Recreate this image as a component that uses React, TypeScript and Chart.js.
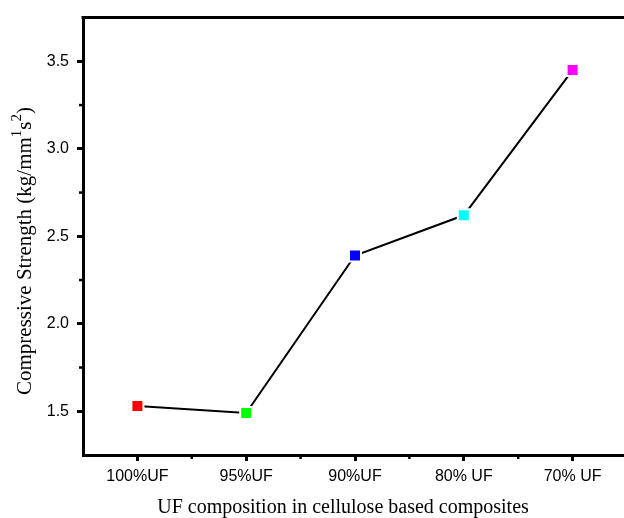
import { useEffect, useRef } from 'react';
import { Chart, registerables } from 'chart.js';

Chart.register(...registerables);

const CATEGORIES = ['100%UF', '95%UF', '90%UF', '80% UF', '70% UF'];
const STRENGTH = [1.53, 1.49, 2.39, 2.62, 3.45];
const MARKER_COLORS = ['#ff0000', '#00ff00', '#0000ff', '#00ffff', '#ff00ff'];
const Y_TICKS = [1.5, 2.0, 2.5, 3.0, 3.5];
const Y_MINOR = [1.75, 2.25, 2.75, 3.25];
const Y_MIN = 1.25;
const Y_MAX = 3.75;
const X_TITLE = 'UF composition in cellulose based composites';
// y title pieces: [text, isSuperscript]
const Y_TITLE_PARTS: [string, boolean][] = [
  ['Compressive Strength (kg/mm', false],
  ['1', true],
  ['s', false],
  ['2', true],
  [')', false],
];

const SERIF = '"Liberation Serif", "DejaVu Serif", serif';
const TITLE_FONT = `20px ${SERIF}`;
const Y_TITLE_FONT = `21px ${SERIF}`;
const SUP_FONT = `15px ${SERIF}`;

const framePlugin = {
  id: 'frame',
  afterDraw(chart: any) {
    const { ctx, chartArea, scales } = chart;
    const x = scales.x;
    const y = scales.y;
    ctx.save();
    ctx.strokeStyle = '#000';
    ctx.lineWidth = 3;
    // top border
    ctx.beginPath();
    ctx.moveTo(chartArea.left - 1.5, chartArea.top);
    ctx.lineTo(chartArea.right, chartArea.top);
    ctx.stroke();
    // minor y ticks
    ctx.lineWidth = 2.5;
    Y_MINOR.forEach((v) => {
      const py = y.getPixelForValue(v);
      ctx.beginPath();
      ctx.moveTo(chartArea.left - 4, py);
      ctx.lineTo(chartArea.left, py);
      ctx.stroke();
    });
    // minor x ticks
    for (let i = 0; i < CATEGORIES.length - 1; i++) {
      const px = (x.getPixelForValue(i) + x.getPixelForValue(i + 1)) / 2;
      ctx.beginPath();
      ctx.moveTo(px, chartArea.bottom);
      ctx.lineTo(px, chartArea.bottom + 4);
      ctx.stroke();
    }
    // x title
    ctx.fillStyle = '#000';
    ctx.font = TITLE_FONT;
    ctx.textAlign = 'center';
    ctx.textBaseline = 'alphabetic';
    ctx.fillText(X_TITLE, 343, 513);
    // y title with superscripts
    const widths = Y_TITLE_PARTS.map(([t, sup]) => {
      ctx.font = sup ? SUP_FONT : Y_TITLE_FONT;
      return ctx.measureText(t).width;
    });
    const total = widths.reduce((a, b) => a + b, 0);
    ctx.translate(31, 251);
    ctx.rotate(-Math.PI / 2);
    ctx.textAlign = 'left';
    let cx = -total / 2;
    Y_TITLE_PARTS.forEach(([t, sup], i) => {
      ctx.font = sup ? SUP_FONT : Y_TITLE_FONT;
      ctx.fillText(t, cx, sup ? -10 : 0);
      cx += widths[i];
    });
    ctx.restore();
  },
};

export default function App() {
  const ref = useRef<HTMLCanvasElement>(null);

  useEffect(() => {
    if (!ref.current) return;
    const chart = new Chart(ref.current, {
      type: 'line',
      data: {
        labels: CATEGORIES,
        datasets: [
          {
            data: STRENGTH,
            borderColor: '#000',
            borderWidth: 2,
            pointStyle: 'rect',
            pointRadius: 8.49,
            pointBackgroundColor: MARKER_COLORS,
            pointBorderColor: '#ffffff',
            pointBorderWidth: 2,
            tension: 0,
          },
        ],
      },
      options: {
        responsive: false,
        animation: false,
        events: [],
        layout: { padding: { left: 0, top: 16, right: 13, bottom: 0 } },
        plugins: { legend: { display: false }, tooltip: { enabled: false } },
        scales: {
          x: {
            type: 'category',
            offset: true,
            afterFit: (s: any) => {
              s.height = 63;
            },
            border: { display: true, color: '#000', width: 3 },
            grid: {
              display: true,
              drawOnChartArea: false,
              drawTicks: true,
              tickLength: 6,
              tickWidth: 3,
              tickColor: '#000',
              offset: false,
            },
            ticks: {
              color: '#000',
              padding: 6,
              maxRotation: 0,
              font: { family: '"Liberation Sans", Arial, sans-serif', size: 16 },
            },
          },
          y: {
            type: 'linear',
            min: Y_MIN,
            max: Y_MAX,
            afterFit: (s: any) => {
              s.width = 83;
            },
            afterBuildTicks: (s: any) => {
              s.ticks = Y_TICKS.map((v) => ({ value: v }));
            },
            border: { display: true, color: '#000', width: 3 },
            grid: {
              display: true,
              drawOnChartArea: false,
              drawTicks: true,
              tickLength: 6,
              tickWidth: 3,
              tickColor: '#000',
            },
            ticks: {
              color: '#000',
              padding: 8,
              callback: (v: any) => Number(v).toFixed(1),
              font: { family: '"Liberation Sans", Arial, sans-serif', size: 16 },
            },
          },
        },
      },
      plugins: [framePlugin],
    });
    return () => chart.destroy();
  }, []);

  return (
    <div
      style={{
        position: 'absolute',
        left: 0,
        top: 0,
        width: 624,
        height: 518,
        overflow: 'hidden',
        background: '#fff',
      }}
    >
      <canvas ref={ref} width={640} height={518} style={{ display: 'block' }} />
    </div>
  );
}
